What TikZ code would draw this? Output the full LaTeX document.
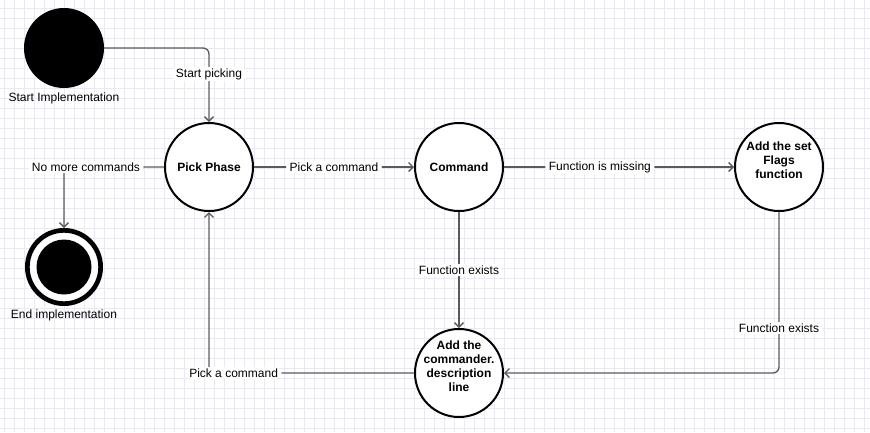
\documentclass[tikz,border=0pt]{standalone}
\usepackage{fontspec}
\setmainfont{Liberation Sans}
\usetikzlibrary{positioning, arrows.meta}
\definecolor{gridlav}{HTML}{E8E8F9}
\definecolor{edgegray}{HTML}{5A5A5A}

\tikzset{
  statenode/.style={circle, draw=black, line width=2pt, fill=white,
    minimum size=88pt, inner sep=0pt, align=center,
    font=\fontsize{12}{14}\selectfont\bfseries},
  raisedtext/.style={text height=#1, text depth=6.5pt},
  flowline/.style={draw=edgegray, line width=1.3pt, rounded corners=6pt,
    -{Straight Barb[length=4.5pt, width=9pt]}},
  edgelabel/.style={fill=white, inner xsep=3.5pt, inner ysep=1.5pt,
    font=\fontsize{12}{14}\selectfont},
  caption/.style={inner sep=0pt, font=\fontsize{12}{14}\selectfont},
}

\begin{document}
\begin{tikzpicture}[x=1pt, y=-1pt]
  \useasboundingbox (0,0) rectangle (870,432);
  % background grid
  \foreach \gx in {4,14,...,864}
    \draw[gridlav, line width=0.8pt] (\gx,0) -- (\gx,432);
  \foreach \gy in {8,18,...,428}
    \draw[gridlav, line width=0.8pt] (0,\gy) -- (870,\gy);

  % start and end states
  \node[circle, fill=black, minimum size=80pt, inner sep=0pt] (start) at (64,48) {};
  \node[caption, below=4pt of start] (startcap) {Start Implementation};
  \node[circle, draw=black, fill=white, line width=4.7pt, minimum size=73.3pt,
        inner sep=0pt] (finish) at (64,267) {};
  \fill[black] (finish.center) circle (27.5pt);
  \node[caption, below=4pt of finish] (finishcap) {End implementation};

  % states
  \node[statenode] (pick) at (209,167) {Pick Phase};
  \node[statenode] (cmd) at (459,167) {Command};
  \node[statenode, raisedtext=30.1pt] (flags) at (779,167) {Add the set\\Flags\\function};
  \node[statenode, raisedtext=44.1pt] (descr) at (459,373) {Add the\\commander.\\description\\line};

  % transitions
  \draw[flowline] (start.east) -| node[edgelabel, pos=0.676] {Start picking} (pick.north);
  \draw[flowline] (pick.east) -- node[edgelabel] {Pick a command} (cmd.west);
  \draw[flowline] (pick.west) -| node[edgelabel, pos=0.39] {No more commands} (finish.north);
  \draw[flowline] (cmd.east) -- node[edgelabel, pos=0.417] {Function is missing} (flags.west);
  \draw[flowline] (cmd.south) -- node[edgelabel] {Function exists} (descr.north);
  \draw[flowline] (flags.south) |- node[edgelabel, pos=0.36] {Function exists} (descr.east);
  \draw[flowline] (descr.west) -| node[edgelabel, pos=0.44] {Pick a command} (pick.south);
\end{tikzpicture}
\end{document}
